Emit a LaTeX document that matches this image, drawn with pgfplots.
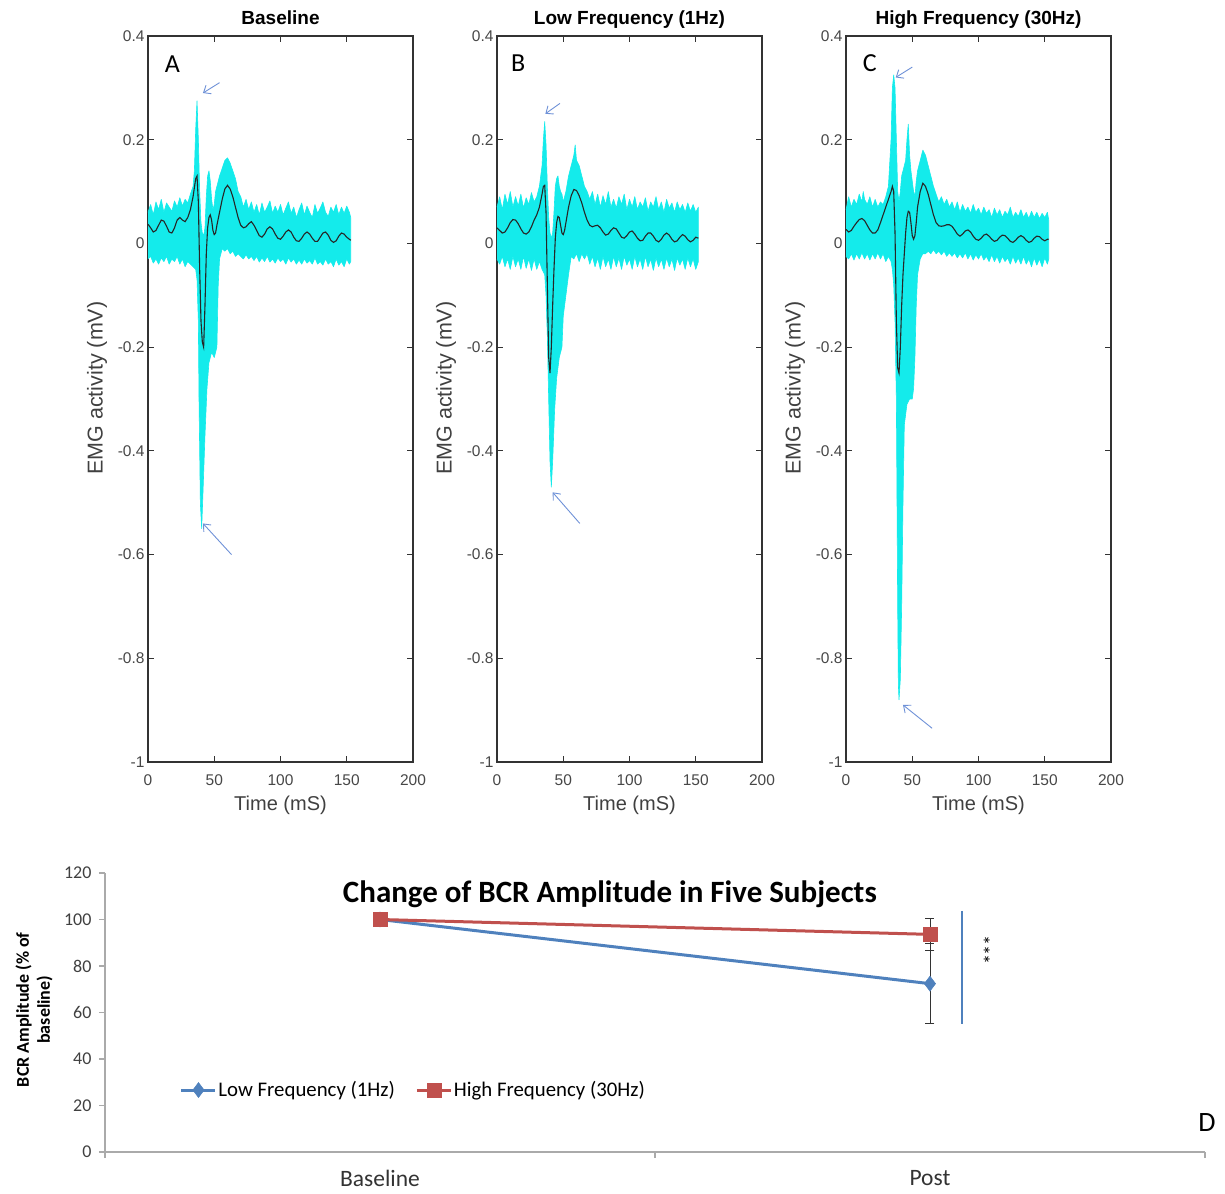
\documentclass[border=0pt]{standalone}
\usepackage{pgfplots}
\pgfplotsset{compat=1.18}
\usepackage{fontspec}
\setmainfont{Liberation Sans}
\newfontfamily\calibri{Carlito}
\usetikzlibrary{arrows.meta}
\definecolor{emgcyan}{RGB}{20,235,235}
\definecolor{xlblue}{RGB}{79,129,189}
\definecolor{xlred}{RGB}{192,80,77}
\definecolor{arrowc}{RGB}{110,145,215}
\definecolor{axgray}{RGB}{170,170,170}
\tikzset{
 annarrow/.style={arrowc, line width=0.9pt, -{Straight Barb[length=6pt,width=10pt]}},
 panellab/.style={font=\calibri\fontsize{26}{28}\selectfont}
}
\pgfplotsset{
 emg/.style={scale only axis, width=265pt, height=726pt, anchor=south west,
  xmin=0,xmax=200,ymin=-1,ymax=0.4,
  xtick={0,50,100,150,200}, ytick={-1,-0.8,-0.6,-0.4,-0.2,0,0.2,0.4},
  tick align=inside, major tick length=6pt,
  axis line style={draw=black!80, line width=1.1pt},
  every tick/.style={draw=black!80, line width=1.1pt},
  /pgf/number format/assume math mode=true, /pgf/number format/fixed,
  tick label style={font=\fontsize{15.5}{17}\selectfont, text=black!72},
  xticklabel style={yshift=-9pt},
  xlabel={Time (mS)}, ylabel={EMG activity (mV)},
  xlabel style={at={(axis description cs:0.5,-0.0592)}, anchor=center, font=\fontsize{20}{22}\selectfont, text=black!75},
  ylabel style={at={(axis description cs:-0.1925,0.515)}, anchor=center, font=\fontsize{21.5}{23}\selectfont, text=black!75},
  title style={at={(axis description cs:0.5,1.0069)}, anchor=base, font=\bfseries\fontsize{19}{21}\selectfont},
  clip=false},
 cyanband/.style={fill=emgcyan, draw=emgcyan, line width=0.6pt, line join=round},
 meanline/.style={black!85, line width=1.1pt}
}
\begin{document}
\begin{tikzpicture}
\useasboundingbox (0,0) rectangle (1225pt,1193pt);

% ---------------- Panel A ----------------
\begin{axis}[emg, at={(148pt,431pt)}, title={Baseline}]
\addplot[cyanband] coordinates {
(0,0.06)(2,0.075)(4,0.055)(6,0.08)(8,0.065)(10,0.085)(12,0.06)(14,0.078)(16,0.07)(18,0.062)
(20,0.082)(22,0.07)(24,0.088)(26,0.072)(28,0.085)(30,0.078)(32,0.095)(34,0.11)(35,0.14)(36,0.22)
(37,0.275)(38,0.2)(39,0.1)(40,0.04)(41,0.02)(42,0.015)(43,0.03)(44,0.09)(45,0.13)(46,0.14)
(47,0.12)(48,0.085)(49,0.065)(50,0.075)(51,0.1)(52,0.11)(54,0.13)(56,0.145)(58,0.16)(60,0.165)
(62,0.155)(64,0.14)(66,0.125)(68,0.1)(70,0.09)(72,0.07)(74,0.085)(76,0.065)(78,0.08)(80,0.06)
(82,0.075)(84,0.055)(86,0.078)(88,0.06)(90,0.07)(92,0.082)(94,0.058)(96,0.072)(98,0.06)(100,0.075)
(102,0.055)(104,0.068)(106,0.08)(108,0.058)(110,0.07)(112,0.05)(114,0.065)(116,0.078)(118,0.055)(120,0.072)
(122,0.06)(124,0.05)(126,0.075)(128,0.058)(130,0.068)(132,0.08)(134,0.06)(136,0.052)(138,0.07)(140,0.06)
(142,0.075)(144,0.055)(146,0.07)(148,0.058)(150,0.072)(152,0.06)(153,0.05)
(153,-0.035)(152,-0.04)(150,-0.03)(148,-0.045)(146,-0.035)(144,-0.042)(142,-0.03)(140,-0.045)(138,-0.035)(136,-0.04)
(134,-0.03)(132,-0.042)(130,-0.035)(128,-0.04)(126,-0.028)(124,-0.04)(122,-0.033)(120,-0.038)(118,-0.03)(116,-0.04)
(114,-0.032)(112,-0.04)(110,-0.03)(108,-0.036)(106,-0.028)(104,-0.04)(102,-0.03)(100,-0.035)(98,-0.028)(96,-0.038)
(94,-0.03)(92,-0.036)(90,-0.025)(88,-0.035)(86,-0.028)(84,-0.036)(82,-0.025)(80,-0.033)(78,-0.025)(76,-0.03)
(74,-0.022)(72,-0.03)(70,-0.025)(68,-0.02)(66,-0.025)(64,-0.015)(62,-0.02)(60,-0.01)(58,-0.015)(56,-0.01)
(54,-0.03)(53,-0.08)(52,-0.2)(50,-0.22)(48,-0.21)(46,-0.23)(44.5,-0.28)(43,-0.37)(41.5,-0.48)(40.5,-0.55)
(39.5,-0.5)(38.5,-0.3)(38,-0.15)(37,-0.07)(36,-0.05)(34,-0.045)(32,-0.04)(30,-0.035)(28,-0.045)(26,-0.03)
(24,-0.04)(22,-0.025)(20,-0.035)(18,-0.03)(16,-0.04)(14,-0.025)(12,-0.035)(10,-0.028)(8,-0.04)(6,-0.03)
(4,-0.038)(2,-0.025)(0,-0.03)};
\addplot[meanline] coordinates {
(0,0.037)(2,0.03)(4,0.022)(6,0.025)(8,0.035)(10,0.045)(12,0.043)(14,0.033)(16,0.022)(18,0.02)
(20,0.03)(22,0.045)(24,0.05)(26,0.045)(28,0.042)(30,0.05)(32,0.065)(34,0.09)(36,0.125)(37,0.13)
(38,0.08)(39,-0.05)(40,-0.15)(41,-0.19)(42,-0.2)(43,-0.12)(44,-0.02)(45,0.03)(46,0.05)(47,0.055)
(48,0.045)(49,0.025)(50,0.017)(51,0.02)(52,0.035)(54,0.06)(56,0.085)(58,0.105)(60,0.112)(62,0.105)
(64,0.09)(66,0.07)(68,0.05)(70,0.035)(72,0.03)(74,0.032)(76,0.038)(78,0.042)(80,0.035)(82,0.025)
(84,0.015)(86,0.012)(88,0.018)(90,0.028)(92,0.032)(94,0.028)(96,0.018)(98,0.01)(100,0.008)(102,0.014)
(104,0.022)(106,0.026)(108,0.022)(110,0.012)(112,0.005)(114,0.004)(116,0.01)(118,0.018)(120,0.022)(122,0.018)
(124,0.01)(126,0.004)(128,0.004)(130,0.012)(132,0.02)(134,0.022)(136,0.016)(138,0.006)(140,0.002)(142,0.005)
(144,0.014)(146,0.02)(148,0.018)(150,0.012)(152,0.008)(153,0.006)};
\draw[annarrow] (axis cs:54,0.31) -- (axis cs:41.5,0.29);
\draw[annarrow] (axis cs:63,-0.6) -- (axis cs:41.5,-0.54);
\node[panellab] at (axis cs:18.5,0.345) {A};
\end{axis}

% ---------------- Panel B ----------------
\begin{axis}[emg, at={(497pt,431pt)}, title={Low Frequency (1Hz)}]
\addplot[cyanband] coordinates {
(0,0.07)(2,0.09)(4,0.065)(6,0.095)(8,0.075)(10,0.1)(12,0.07)(14,0.09)(16,0.072)(18,0.095)
(20,0.068)(22,0.088)(24,0.075)(26,0.098)(28,0.08)(30,0.09)(32,0.11)(34,0.15)(35,0.2)(36,0.235)
(37,0.19)(38,0.11)(39,0.05)(40,0.02)(41,0.01)(42,0.02)(43,0.06)(44,0.11)(45,0.125)(46,0.13)
(47,0.11)(48,0.1)(49,0.095)(50,0.08)(52,0.1)(54,0.13)(56,0.15)(58,0.17)(59,0.19)(60,0.16)
(62,0.15)(64,0.13)(66,0.11)(68,0.1)(70,0.085)(72,0.1)(74,0.075)(76,0.095)(78,0.07)(80,0.092)
(82,0.075)(84,0.1)(86,0.07)(88,0.085)(90,0.068)(92,0.09)(94,0.075)(96,0.095)(98,0.065)(100,0.085)
(102,0.07)(104,0.09)(106,0.065)(108,0.08)(110,0.07)(112,0.088)(114,0.062)(116,0.08)(118,0.07)(120,0.09)
(122,0.065)(124,0.08)(126,0.06)(128,0.085)(130,0.068)(132,0.078)(134,0.06)(136,0.08)(138,0.065)(140,0.075)
(142,0.06)(144,0.078)(146,0.062)(148,0.075)(150,0.06)(152,0.07)
(152,-0.035)(150,-0.05)(148,-0.03)(146,-0.045)(144,-0.028)(142,-0.05)(140,-0.03)(138,-0.042)(136,-0.028)(134,-0.052)
(132,-0.03)(130,-0.045)(128,-0.028)(126,-0.05)(124,-0.03)(122,-0.045)(120,-0.028)(118,-0.052)(116,-0.03)(114,-0.045)
(112,-0.025)(110,-0.05)(108,-0.03)(106,-0.045)(104,-0.025)(102,-0.05)(100,-0.03)(98,-0.042)(96,-0.025)(94,-0.05)
(92,-0.028)(90,-0.045)(88,-0.025)(86,-0.05)(84,-0.03)(82,-0.045)(80,-0.025)(78,-0.05)(76,-0.028)(74,-0.045)
(72,-0.025)(70,-0.04)(68,-0.02)(66,-0.03)(64,-0.02)(62,-0.035)(60,-0.02)(58,-0.03)(56,-0.025)(54,-0.06)
(52,-0.1)(50,-0.14)(49,-0.2)(47,-0.22)(45,-0.26)(43.5,-0.32)(42,-0.42)(41,-0.47)(40,-0.42)(39,-0.3)
(38,-0.18)(37,-0.1)(36,-0.06)(34,-0.05)(32,-0.035)(30,-0.05)(28,-0.03)(26,-0.052)(24,-0.03)(22,-0.048)
(20,-0.025)(18,-0.05)(16,-0.03)(14,-0.045)(12,-0.025)(10,-0.05)(8,-0.03)(6,-0.045)(4,-0.025)(2,-0.04)
(0,-0.03)};
\addplot[meanline] coordinates {
(0,0.03)(2,0.025)(4,0.02)(6,0.022)(8,0.03)(10,0.04)(12,0.046)(14,0.045)(16,0.038)(18,0.028)
(20,0.02)(22,0.018)(24,0.022)(26,0.032)(28,0.045)(30,0.055)(32,0.07)(34,0.095)(35,0.11)(36,0.112)
(37,0.06)(38,-0.08)(39,-0.22)(40,-0.25)(41,-0.2)(42,-0.12)(43,-0.05)(44,0.01)(45,0.04)(46,0.052)
(47,0.05)(48,0.035)(49,0.02)(50,0.017)(51,0.025)(52,0.04)(54,0.07)(56,0.092)(58,0.104)(60,0.102)
(62,0.092)(64,0.078)(66,0.06)(68,0.045)(70,0.035)(72,0.032)(74,0.034)(76,0.035)(78,0.03)(80,0.022)
(82,0.016)(84,0.018)(86,0.025)(88,0.03)(90,0.028)(92,0.02)(94,0.012)(96,0.01)(98,0.015)(100,0.022)
(102,0.024)(104,0.018)(106,0.01)(108,0.005)(110,0.006)(112,0.014)(114,0.02)(116,0.02)(118,0.014)(120,0.006)
(122,0.003)(124,0.008)(126,0.016)(128,0.02)(130,0.016)(132,0.008)(134,0.003)(136,0.005)(138,0.012)(140,0.017)
(142,0.014)(144,0.007)(146,0.003)(148,0.006)(150,0.012)(152,0.01)};
\draw[annarrow] (axis cs:47.5,0.27) -- (axis cs:36.5,0.25);
\draw[annarrow] (axis cs:62.5,-0.54) -- (axis cs:42,-0.48);
\node[panellab] at (axis cs:16,0.347) {B};
\end{axis}

% ---------------- Panel C ----------------
\begin{axis}[emg, at={(846pt,431pt)}, title={High Frequency (30Hz)}]
\addplot[cyanband] coordinates {
(0,0.065)(2,0.09)(4,0.07)(6,0.085)(8,0.075)(10,0.095)(12,0.08)(13,0.1)(14,0.085)(16,0.075)
(18,0.09)(20,0.07)(22,0.085)(24,0.07)(26,0.08)(28,0.075)(30,0.09)(32,0.11)(34,0.2)(35,0.3)
(36,0.325)(37,0.3)(38,0.2)(39,0.1)(40,0.08)(41,0.1)(42,0.13)(43,0.14)(44,0.15)(45,0.16)
(46,0.2)(47,0.23)(48,0.17)(49,0.14)(50,0.12)(51,0.1)(52,0.09)(53,0.12)(54,0.14)(56,0.16)
(58,0.18)(60,0.17)(62,0.15)(64,0.13)(66,0.11)(68,0.095)(70,0.08)(72,0.09)(74,0.075)(76,0.085)
(78,0.07)(80,0.08)(82,0.065)(84,0.08)(86,0.06)(88,0.075)(90,0.062)(92,0.07)(94,0.058)(96,0.075)
(98,0.06)(100,0.068)(102,0.055)(104,0.07)(106,0.058)(108,0.065)(110,0.05)(112,0.068)(114,0.055)(116,0.065)
(118,0.05)(120,0.062)(122,0.055)(124,0.07)(126,0.05)(128,0.06)(130,0.052)(132,0.065)(134,0.05)(136,0.06)
(138,0.048)(140,0.062)(142,0.05)(144,0.06)(146,0.048)(148,0.058)(150,0.05)(152,0.06)(153,0.045)
(153,-0.03)(152,-0.04)(150,-0.028)(148,-0.045)(146,-0.03)(144,-0.042)(142,-0.028)(140,-0.045)(138,-0.03)(136,-0.04)
(134,-0.025)(132,-0.04)(130,-0.028)(128,-0.038)(126,-0.025)(124,-0.04)(122,-0.028)(120,-0.035)(118,-0.025)(116,-0.038)
(114,-0.025)(112,-0.035)(110,-0.022)(108,-0.035)(106,-0.025)(104,-0.032)(102,-0.02)(100,-0.03)(98,-0.022)(96,-0.032)
(94,-0.02)(92,-0.03)(90,-0.018)(88,-0.028)(86,-0.02)(84,-0.028)(82,-0.018)(80,-0.025)(78,-0.018)(76,-0.025)
(74,-0.015)(72,-0.022)(70,-0.015)(68,-0.02)(66,-0.012)(64,-0.02)(62,-0.015)(60,-0.02)(58,-0.02)(56,-0.03)
(54,-0.06)(53,-0.12)(52,-0.22)(51,-0.28)(50,-0.3)(48,-0.3)(46,-0.31)(44,-0.35)(43,-0.5)(42,-0.7)
(41,-0.84)(40,-0.88)(39.5,-0.85)(39,-0.7)(38.5,-0.5)(38,-0.3)(37,-0.15)(36,-0.08)(35,-0.05)(34,-0.035)
(32,-0.025)(30,-0.035)(28,-0.02)(26,-0.03)(24,-0.018)(22,-0.03)(20,-0.02)(18,-0.032)(16,-0.02)(14,-0.03)
(12,-0.018)(10,-0.03)(8,-0.02)(6,-0.032)(4,-0.02)(2,-0.03)(0,-0.025)};
\addplot[meanline] coordinates {
(0,0.027)(2,0.022)(4,0.025)(6,0.033)(8,0.04)(10,0.046)(12,0.048)(14,0.044)(16,0.035)(18,0.026)
(20,0.02)(22,0.02)(24,0.026)(26,0.04)(28,0.055)(30,0.07)(32,0.085)(34,0.1)(35,0.11)(36,0.1)
(37,0.02)(38,-0.15)(39,-0.24)(40,-0.25)(41,-0.2)(42,-0.12)(43,-0.06)(44,-0.02)(45,0.02)(46,0.05)
(47,0.062)(48,0.06)(49,0.04)(50,0.015)(51,0.008)(52,0.015)(53,0.04)(54,0.07)(56,0.1)(58,0.116)
(60,0.11)(62,0.095)(64,0.075)(66,0.055)(68,0.04)(70,0.034)(72,0.033)(74,0.034)(76,0.036)(78,0.036)
(80,0.033)(82,0.026)(84,0.018)(86,0.014)(88,0.018)(90,0.024)(92,0.026)(94,0.022)(96,0.014)(98,0.008)
(100,0.006)(102,0.01)(104,0.016)(106,0.018)(108,0.014)(110,0.008)(112,0.004)(114,0.006)(116,0.012)(118,0.016)
(120,0.015)(122,0.01)(124,0.004)(126,0.002)(128,0.006)(130,0.012)(132,0.015)(134,0.012)(136,0.006)(138,0.002)
(140,0.004)(142,0.01)(144,0.014)(146,0.013)(148,0.008)(150,0.005)(152,0.008)(153,0.008)};
\draw[annarrow] (axis cs:50,0.34) -- (axis cs:37.5,0.32);
\draw[annarrow] (axis cs:65,-0.935) -- (axis cs:43,-0.89);
\node[panellab] at (axis cs:18,0.347) {C};
\end{axis}

% ---------------- Panel D ----------------
\begin{axis}[scale only axis, width=1100pt, height=279pt, at={(105pt,41pt)}, anchor=south west,
 xmin=0,xmax=2,ymin=0,ymax=120,
 axis lines*=left,
 axis line style={draw=axgray, line width=1.2pt},
 every tick/.style={draw=axgray, line width=1.2pt},
 tick align=outside, major tick length=6pt,
 xtick={0,1,2}, xticklabels={},
 extra x ticks={0.5,1.5}, extra x tick labels={Baseline,Post},
 extra x tick style={major tick length=0pt, tick label style={font=\calibri\fontsize{23.5}{25}\selectfont, text=black!80, yshift=-15pt}},
 ytick={0,20,40,60,80,100,120},
 /pgf/number format/assume math mode=true,
 yticklabel style={font=\calibri\fontsize{18}{20}\selectfont, text=black!75, xshift=-4pt},
 ylabel={BCR Amplitude (\% of\\baseline)},
 ylabel style={at={(axis description cs:-0.0645,0.51)}, anchor=center, align=center, font=\calibri\bfseries\fontsize{18}{21}\selectfont},
 title={Change of BCR Amplitude in Five Subjects},
 title style={at={(axis description cs:0.459,0.8745)}, anchor=base, font=\calibri\bfseries\fontsize{31}{34}\selectfont},
 legend style={at={(axis description cs:0.068,0.222)}, anchor=west, draw=none, fill=none, legend columns=2,
   font=\calibri\fontsize{20.8}{22}\selectfont, inner sep=0pt, nodes={inner sep=1.5pt},
   /tikz/every even column/.append style={column sep=19pt}},
 legend image code/.code={\draw[mark repeat=2,mark phase=2,#1] plot coordinates {(0pt,0pt) (17pt,0pt) (34pt,0pt)};},
 clip=false]
\addplot[forget plot, black!80, mark=none, error bars/.cd, y dir=both, y explicit,
  error bar style={black!80, line width=0.9pt}, error mark=-, error mark options={rotate=90, black!80, mark size=4.5pt, line width=0.9pt}]
  coordinates {(1.5,72.4) +- (0,17.3)};
\addplot[forget plot, black!80, mark=none, error bars/.cd, y dir=both, y explicit,
  error bar style={black!80, line width=0.9pt}, error mark=-, error mark options={rotate=90, black!80, mark size=4.5pt, line width=0.9pt}]
  coordinates {(1.5,93.6) +- (0,7)};
\addplot[forget plot, xlblue, line width=1.5pt] coordinates {(1.558,103.7) (1.558,55)};
\addplot[xlblue, line width=3pt, mark=diamond*, mark size=7.5pt, mark options={solid, fill=xlblue, draw=xlblue, line width=0.5pt}]
  coordinates {(0.5,100) (1.5,72.4)};
\addlegendentry{Low Frequency (1Hz)}
\addplot[xlred, line width=3pt, mark=square*, mark size=7pt, mark options={solid, fill=xlred, draw=xlred, line width=0.5pt}]
  coordinates {(0.5,100) (1.5,93.6)};
\addlegendentry{High Frequency (30Hz)}
\node[font=\calibri\fontsize{20}{22}\selectfont, rotate=-90] at (axis description cs:0.798,0.724) {***};
\node[font=\calibri\fontsize{28}{30}\selectfont] at (axis description cs:1.0018,0.104) {D};
\end{axis}
\end{tikzpicture}
\end{document}
